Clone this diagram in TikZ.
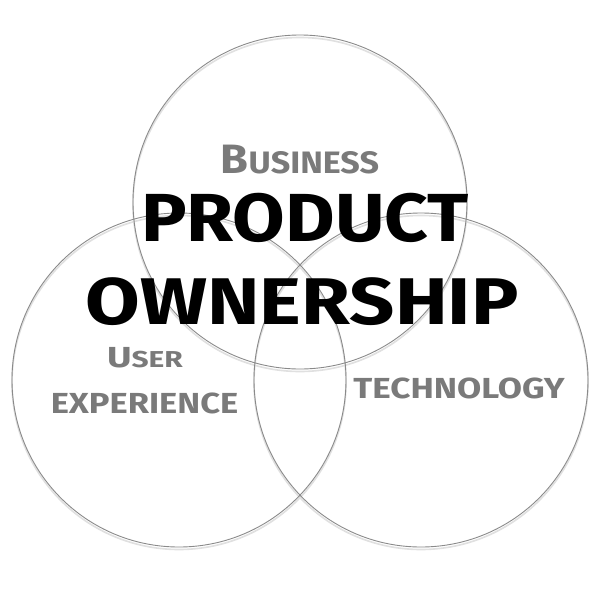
\documentclass[tikz,border=0pt]{standalone}
\usepackage{fontspec}
\setmainfont{Fira Sans}
\definecolor{ringgray}{HTML}{8A8A8A}
\definecolor{labelgray}{HTML}{7A7A7A}
\begin{document}
\begin{tikzpicture}[x=1pt,y=-1pt,
  ring/.style={draw=ringgray,line width=0.9pt,minimum size=334pt,circle,inner sep=0pt},
  ringshadow/.style={draw=black!12,line width=1.6pt,minimum size=334pt,circle,inner sep=0pt},
  lbl/.style={text=labelgray,font=\bfseries,inner sep=0pt,anchor=base},
  big/.style={text=black,font=\bfseries,inner sep=0pt,anchor=base}]
\useasboundingbox (0,0) rectangle (600,600);
\fill[white] (0,0) rectangle (600,600);
% shadows
\node[ringshadow] at (300,204.5) {};
\node[ringshadow] at (179,382.5) {};
\node[ringshadow] at (421,382.5) {};
% circles
\node[ring] (top) at (300,202) {};
\node[ring] (left) at (179,380) {};
\node[ring] (right) at (421,380) {};
% labels
\node[lbl,xscale=1.10] (bus) at (300,173) {\fontsize{41}{41}\selectfont B\fontsize{31}{31}\selectfont USINESS};
\node[lbl,xscale=1.3] (user) at (145,367) {\fontsize{29}{29}\selectfont U\fontsize{23}{23}\selectfont SER};
\node[lbl,xscale=1.19] (exp) at (144.5,413) {\fontsize{29}{29}\selectfont EXPERIENCE};
\node[lbl,xscale=1.21] (tech) at (459,398) {\fontsize{29}{29}\selectfont TECHNOLOGY};
\node[big,xscale=1.12] (prod) at (305,241) {\fontsize{68}{68}\selectfont PRODUCT};
\node[big,xscale=1.20] (own) at (302,324) {\fontsize{66}{66}\selectfont OWNERSHIP};
\end{tikzpicture}
\end{document}
